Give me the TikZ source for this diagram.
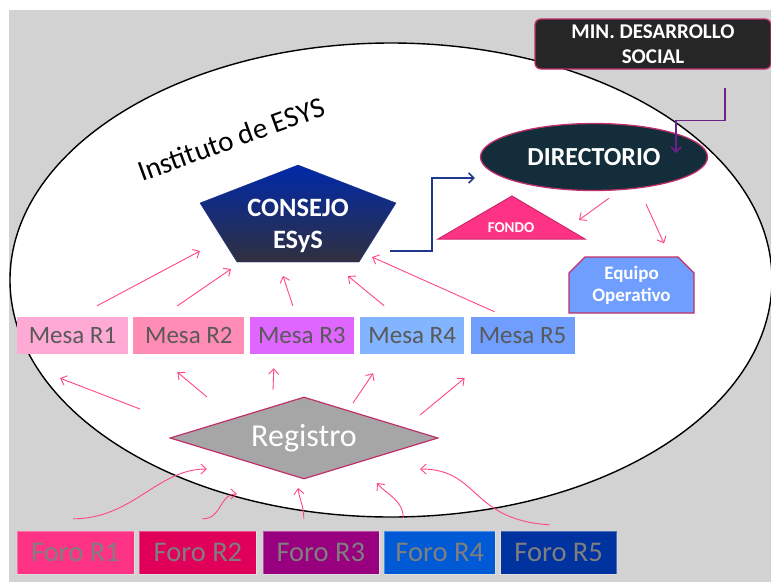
\documentclass[tikz,border=0pt]{standalone}
\usepackage{fontspec}
\setmainfont{Carlito}
\usetikzlibrary{shapes.geometric, shapes.misc, arrows.meta, positioning, calc}
\definecolor{bggray}{RGB}{210,210,210}
\definecolor{arrowpink}{RGB}{255,70,140}
\definecolor{bordermag}{RGB}{192,48,106}
\definecolor{minfill}{RGB}{38,38,38}
\definecolor{dirfill}{RGB}{19,45,58}
\definecolor{consejotop}{RGB}{0,41,170}
\definecolor{consejobot}{RGB}{48,48,62}
\definecolor{consejoline}{RGB}{30,50,140}
\definecolor{fondofill}{RGB}{255,51,133}
\definecolor{fondoline}{RGB}{205,40,110}
\definecolor{equipofill}{RGB}{111,158,255}
\definecolor{mesaA}{RGB}{255,170,212}
\definecolor{mesaB}{RGB}{255,140,180}
\definecolor{mesaC}{RGB}{223,102,255}
\definecolor{mesaD}{RGB}{130,180,255}
\definecolor{mesaE}{RGB}{111,158,255}
\definecolor{foroA}{RGB}{255,51,133}
\definecolor{foroB}{RGB}{224,0,90}
\definecolor{foroC}{RGB}{153,0,128}
\definecolor{foroD}{RGB}{0,90,214}
\definecolor{foroE}{RGB}{0,51,160}
\definecolor{mesatext}{RGB}{89,89,89}
\definecolor{forotext}{RGB}{127,127,127}
\definecolor{regfill}{RGB}{166,166,166}
\definecolor{bluelink}{RGB}{31,56,140}
\definecolor{purplelink}{RGB}{112,32,140}
\tikzset{
    mesa/.style={rectangle, minimum height=37pt, inner sep=0pt, text=mesatext, font=\fontsize{25}{29}\selectfont},
    foro/.style={rectangle, minimum height=43pt, inner sep=0pt, draw=white, draw opacity=0.3, text=forotext, font=\fontsize{28.5}{33}\selectfont},
    minbox/.style={rectangle, rounded corners=6pt, minimum width=236pt, minimum height=50pt, inner sep=0pt, align=center, draw=bordermag, line width=1.3pt, fill=minfill, text=white, font=\bfseries\fontsize{21}{25}\selectfont},
    dirbox/.style={ellipse, minimum width=227pt, minimum height=67pt, inner sep=0pt, draw=bordermag, line width=1.3pt, fill=dirfill, text=white, font=\bfseries\fontsize{26}{30}\selectfont},
    equipobox/.style={chamfered rectangle, chamfered rectangle corners={north west, north east}, chamfered rectangle xsep=8pt, chamfered rectangle ysep=8pt, minimum width=125pt, minimum height=56pt, inner sep=0pt, align=center, draw=bordermag, line width=1.3pt, fill=equipofill, text=white, font=\bfseries\fontsize{19}{22}\selectfont},
    regbox/.style={diamond, aspect=3.3, minimum width=268pt, minimum height=82pt, inner sep=0pt, draw=bordermag, line width=1.2pt, fill=regfill, text=white, font=\fontsize{32}{36}\selectfont},
    pinkarrow/.style={line width=0.9pt, draw=arrowpink, -{Straight Barb[length=5.5pt,width=10pt]}},
    bluearrow/.style={line width=1.6pt, draw=bluelink, -{Straight Barb[length=5pt,width=10pt]}},
    purplearrow/.style={line width=1.6pt, draw=purplelink, -{Straight Barb[length=5pt,width=10pt]}}
}

\begin{document}
\begin{tikzpicture}[x=1pt, y=-1pt]
    % Background and institute
    \useasboundingbox (0,0) rectangle (771,582);
    \fill[bggray] (9,10) rectangle (771,582);
    \draw[line width=1.4pt, fill=white] (391,280) ellipse [x radius=381pt, y radius=237pt];
    \node (inst) [rotate=20, font=\fontsize{29}{33}\selectfont] at (231,139) {Instituto de ESYS};

    % Top: ministry, board, fund, team
    \node (min) [minbox] at (653,44) {MIN. DESARROLLO\\SOCIAL};
    \node (dir) [dirbox] at (594,157) {DIRECTORIO};
    \filldraw[fill=fondofill, draw=fondoline, line width=1pt] (512,196) -- (585,239) -- (438,239) -- cycle;
    \node (fondo) [text=white, font=\bfseries\fontsize{15}{18}\selectfont] at (511,228) {FONDO};
    \node (equipo) [equipobox] at (631.5,285) {Equipo\\Operativo};

    % Council
    \shade[top color=consejotop, bottom color=consejobot, draw=consejoline] (298,165) -- (396,203) -- (359,262) -- (237,262) -- (200,203) -- cycle;
    \node (consejo) [align=center, text=white, font=\bfseries\fontsize{26.5}{32}\selectfont] at (298,226) {CONSEJO\\ESyS};

    % Mesas
    \node (mesa1) [mesa, fill=mesaA, minimum width=111pt] at (72.5,335.5) {Mesa R1};
    \node (mesa2) [mesa, fill=mesaB, minimum width=111pt, right=5pt of mesa1] {Mesa R2};
    \node (mesa3) [mesa, fill=mesaC, minimum width=104pt, right=5pt of mesa2] {Mesa R3};
    \node (mesa4) [mesa, fill=mesaD, minimum width=104pt, right=6pt of mesa3] {Mesa R4};
    \node (mesa5) [mesa, fill=mesaE, minimum width=104pt, right=6pt of mesa4] {Mesa R5};

    % Registro
    \node (registro) [regbox] at (304,438) {Registro};

    % Foros
    \node (foro1) [foro, fill=foroA, minimum width=117pt] at (75.5,552.5) {Foro R1};
    \node (foro2) [foro, fill=foroB, minimum width=117pt, right=5pt of foro1] {Foro R2};
    \node (foro3) [foro, fill=foroC, minimum width=116pt, right=6pt of foro2] {Foro R3};
    \node (foro4) [foro, fill=foroD, minimum width=111pt, right=5pt of foro3] {Foro R4};
    \node (foro5) [foro, fill=foroE, minimum width=116pt, right=5pt of foro4] {Foro R5};

    % Arrows: ministry and council to board
    \draw[purplearrow] ([shift={(72,18)}]min.south) -- ++(0,33) -| ([shift={(82,-4)}]dir.center);
    \draw[bluearrow] ([shift={(92,25)}]consejo.center) -- ++(42,0) |- ([shift={(-5,21)}]dir.west);
    \draw[pinkarrow] ([shift={(15,7)}]dir.south) -- ([shift={(68,-8)}]fondo.center);
    \draw[pinkarrow] ([shift={(52,13)}]dir.south) -- ([shift={(32.5,-13)}]equipo.north);

    % Arrows: mesas to council
    \draw[pinkarrow] ([shift={(24.5,-11)}]mesa1.north) -- ([shift={(-98,25)}]consejo.center);
    \draw[pinkarrow] ([shift={(-11.5,-11)}]mesa2.north) -- ([shift={(-67,43)}]consejo.center);
    \draw[pinkarrow] ([shift={(-9,-11)}]mesa3.north) -- ([shift={(-15,50)}]consejo.center);
    \draw[pinkarrow] ([shift={(-28,-11)}]mesa4.north) -- ([shift={(50,50)}]consejo.center);
    \draw[pinkarrow] ([shift={(-28,-5)}]mesa5.north) -- ([shift={(74,31)}]consejo.center);

    % Arrows: registro to mesas
    \draw[pinkarrow] ([shift={(-164,-29)}]registro.center) -- ([shift={(-12.5,24)}]mesa1.south);
    \draw[pinkarrow] ([shift={(-97,-41)}]registro.center) -- ([shift={(-11.5,18)}]mesa2.south);
    \draw[pinkarrow] ([shift={(-31,-48)}]registro.center) -- ([shift={(-28,14)}]mesa3.south);
    \draw[pinkarrow] ([shift={(49,-35)}]registro.center) -- ([shift={(-39,19)}]mesa4.south);
    \draw[pinkarrow] ([shift={(116,-23)}]registro.center) -- ([shift={(-58,24)}]mesa5.south);

    % Arrows: foros to registro
    \draw[pinkarrow] ([shift={(-2.5,-12)}]foro1.north) .. controls +(60,0) and +(-50,0) .. ([shift={(-97,31)}]registro.center);
    \draw[pinkarrow] ([shift={(4.5,-12)}]foro2.north) .. controls +(20,0) and +(-18,0) .. ([shift={(-67,56)}]registro.center);
    \draw[pinkarrow] ([shift={(-17,-12)}]foro3.north) .. controls +(0,-14) and +(2,14) .. ([shift={(-6,50)}]registro.center);
    \draw[pinkarrow] ([shift={(-36.5,-13)}]foro4.north) .. controls +(0,-18) and +(10,12) .. ([shift={(73,45)}]registro.center);
    \draw[pinkarrow] ([shift={(-9,-6)}]foro5.north) .. controls +(-80,-5) and +(60,0) .. ([shift={(116,31)}]registro.center);
\end{tikzpicture}
\end{document}
